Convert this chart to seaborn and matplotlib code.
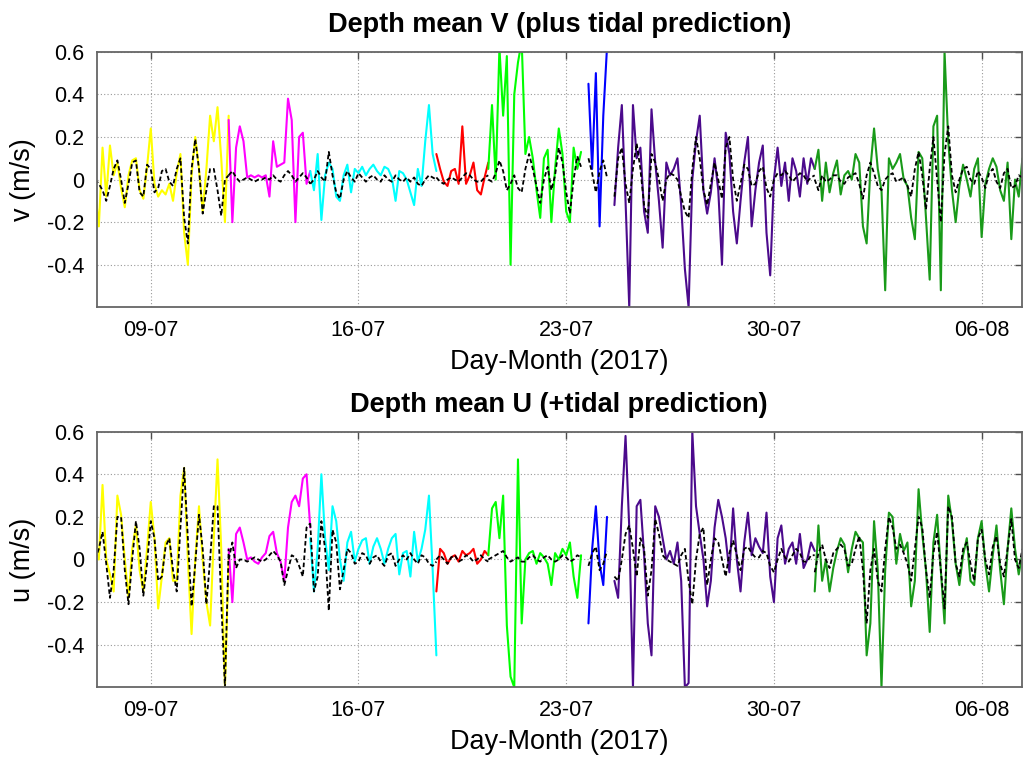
import numpy as np
import pandas as pd
import matplotlib
matplotlib.use('Agg')  # no display in the sandbox
import matplotlib.pyplot as plt
import matplotlib.dates as mdates
import seaborn as sns

# time base: samples every 3 hours counted from 07-07 00:00
START = pd.Timestamp('2017-07-07')
STEP_HOURS = 3

seg_names = ['yellow', 'magenta', 'cyan', 'red', 'lime', 'blue', 'indigo', 'green']
seg_colors = ['#ffff00', '#ff00ff', '#00ffff', '#ff0000', '#00ff00', '#0000ff', '#4b0a8c', '#199a19']
seg_first = [1, 37, 59, 93, 107, 134, 141, 195]  # first 3-hour sample index of each deployment

tick_days = ['2017-07-09', '2017-07-16', '2017-07-23', '2017-07-30', '2017-08-06']
y_ticks = [-0.4, -0.2, 0, 0.2, 0.4, 0.6]

# depth mean V (m/s), one list per segment
v_obs = [
    [-0.05, -0.22, 0.15, -0.08, 0.16, 0.02, 0.08, -0.04, -0.13, 0.02, 0.09, 0.10, -0.05, -0.09, 0.06, 0.24, -0.02, -0.08, -0.05, -0.07,
     -0.02, -0.10, 0.03, 0.12, -0.25, -0.40, 0.02, 0.20, 0.05, -0.15, 0.05, 0.30, 0.18, 0.34, 0.10, -0.20, 0.30],
    [0.28, -0.20, 0.15, 0.25, 0.18, 0.01, 0.02, 0.01, 0.02, 0.01, 0.02, -0.08, 0.18, 0.06, 0.07, 0.08, 0.38, 0.28, -0.20, 0.20,
     0.22, -0.02, 0.04],
    [0.04, -0.05, 0.12, -0.19, 0.02, 0.08, 0.05, -0.08, -0.10, 0.02, 0.07, -0.06, 0.05, 0.03, 0.06, 0.02, 0.05, 0.07, 0.04, 0.02,
     0.06, 0.05, 0.01, -0.10, 0.04, 0.03, 0.0, -0.06, -0.12, 0.05, -0.03, 0.18, 0.35, 0.12, 0.04],
    [0.12, 0.05, -0.01, -0.03, 0.04, 0.05, -0.02, 0.25, -0.02, 0.02, 0.08, -0.05, -0.07, 0.01, 0.08],
    [0.05, 0.35, 0.0, 0.62, 0.30, 0.58, -0.40, 0.40, 0.55, 0.65, 0.12, 0.20, 0.10, -0.05, -0.18, 0.10, 0.14, -0.20, 0.05, 0.24,
     0.12, -0.15, -0.20, 0.15, 0.05, 0.13],
    [0.45, 0.05, 0.50, -0.22, 0.30, 0.62],
    [-0.12, 0.15, 0.35, -0.10, -0.60, 0.35, 0.10, 0.15, -0.15, -0.25, 0.33, 0.08, -0.10, -0.32, 0.08, 0.02, 0.05, 0.10, -0.12, -0.42,
     -0.60, 0.0, 0.18, 0.30, -0.05, -0.16, -0.06, 0.10, -0.05, -0.40, 0.22, 0.12, -0.15, -0.30, -0.10, 0.08, 0.20, -0.22, -0.05, 0.08,
     0.16, -0.25, -0.45, 0.0, 0.15, -0.03, 0.08, -0.10, 0.10, 0.04, -0.08, 0.10, -0.02, 0.10, 0.05],
    [0.05, 0.14, -0.10, 0.08, -0.06, 0.03, 0.09, -0.07, 0.02, 0.04, 0.0, 0.12, 0.08, -0.22, -0.30, 0.05, 0.24, 0.05, -0.05, -0.52,
     0.10, 0.05, 0.08, 0.12, 0.0, -0.03, -0.18, -0.28, 0.13, 0.10, -0.18, -0.47, 0.25, 0.30, -0.52, 0.60, 0.18, -0.05, -0.20, -0.03,
     0.07, 0.0, -0.08, 0.05, 0.10, -0.27, -0.02, 0.05, 0.10, 0.06, -0.05, -0.10, 0.08, -0.28, 0.0, -0.08, 0.10],
]
v_tide = [
    [0.0, -0.02, -0.05, -0.10, -0.03, 0.05, 0.09, 0.0, -0.11, -0.02, 0.08, 0.09, -0.06, -0.08, 0.07, 0.05, -0.06, -0.04, 0.04, 0.05,
     -0.01, -0.03, 0.05, 0.10, -0.18, -0.30, 0.05, 0.19, 0.05, -0.16, -0.05, 0.05, 0.05, -0.05, -0.17, 0.0, 0.02],
    [0.02, 0.04, 0.01, -0.01, 0.0, 0.01, 0.0, -0.01, 0.0, 0.0, 0.01, 0.0, 0.02, 0.0, -0.01, 0.02, 0.04, 0.02, -0.01, 0.01,
     0.03, 0.01, -0.02],
    [-0.02, 0.0, 0.04, 0.01, -0.01, 0.13, 0.02, -0.06, -0.09, 0.0, 0.04, 0.01, -0.01, 0.03, 0.01, -0.01, 0.01, 0.02, 0.0, -0.01,
     0.02, 0.0, -0.01, 0.02, 0.0, -0.01, 0.01, -0.01, 0.01, -0.02, -0.03, 0.0, 0.02, 0.01, 0.0],
    [0.01, -0.01, -0.02, 0.0, 0.01, 0.0, -0.01, 0.01, 0.03, 0.02, 0.0, -0.01, -0.01, 0.01, 0.02],
    [0.0, -0.01, 0.03, 0.09, 0.04, -0.05, -0.02, 0.02, -0.04, -0.06, 0.05, 0.12, 0.05, -0.03, -0.11, 0.0, 0.06, -0.05, 0.02, 0.15,
     0.08, -0.06, -0.16, 0.0, 0.11, 0.06],
    [0.10, 0.03, -0.06, 0.04, 0.09, 0.01],
    [-0.08, 0.10, 0.15, -0.02, -0.11, 0.05, 0.17, 0.05, -0.12, -0.18, 0.12, 0.08, 0.0, -0.10, 0.0, 0.03, 0.02, 0.0, -0.08, -0.15,
     -0.18, 0.05, 0.20, 0.10, -0.05, -0.12, -0.02, 0.08, 0.0, -0.09, 0.15, 0.20, 0.0, -0.10, -0.02, 0.07, 0.05, -0.03, -0.02, 0.04,
     0.06, -0.04, -0.08, 0.0, 0.03, 0.02, 0.04, 0.02, -0.01, 0.01, 0.03, 0.02, -0.01, 0.01, 0.02],
    [0.0, -0.05, 0.02, -0.01, 0.0, 0.02, 0.02, -0.01, -0.02, 0.01, 0.02, 0.03, -0.02, -0.09, 0.02, 0.08, 0.03, -0.03, -0.05, 0.0,
     0.02, 0.03, -0.01, 0.0, 0.01, -0.03, -0.08, 0.05, 0.13, 0.02, -0.14, 0.05, 0.20, 0.0, -0.20, 0.12, 0.25, 0.02, -0.06, 0.0,
     0.05, 0.06, 0.0, -0.02, 0.04, 0.01, -0.04, 0.03, 0.05, -0.01, -0.04, 0.03, 0.05, -0.04, -0.03, 0.02, 0.01],
]

# depth mean U (m/s)
u_obs = [
    [0.10, 0.0, 0.35, 0.0, -0.07, -0.15, 0.30, 0.21, 0.0, -0.18, 0.05, 0.16, -0.05, -0.15, 0.05, 0.27, 0.10, -0.23, -0.08, 0.08,
     0.10, -0.10, -0.10, 0.30, 0.43, 0.0, -0.35, 0.0, 0.25, 0.0, -0.20, -0.31, 0.10, 0.47, 0.05, -0.60, 0.0],
    [0.05, -0.20, 0.12, 0.15, 0.08, 0.0, 0.01, -0.01, -0.02, 0.01, 0.03, 0.11, 0.13, 0.03, -0.01, -0.10, 0.15, 0.27, 0.30, 0.25,
     0.38, 0.40, 0.15],
    [0.10, -0.15, 0.05, 0.40, 0.10, -0.05, 0.25, 0.18, 0.0, -0.10, 0.08, 0.13, -0.01, 0.05, 0.09, 0.10, -0.02, 0.06, 0.10, 0.05,
     -0.02, 0.05, 0.10, 0.12, -0.07, 0.03, 0.04, -0.08, 0.13, -0.01, 0.05, 0.14, 0.30, -0.05, -0.45],
    [-0.15, 0.05, 0.03, -0.02, 0.01, 0.02, -0.01, 0.04, 0.02, 0.03, 0.05, -0.02, 0.0, 0.04, 0.02],
    [0.02, 0.24, 0.27, 0.10, 0.30, -0.31, -0.55, -0.60, 0.47, -0.30, 0.0, 0.03, 0.04, -0.02, 0.03, 0.01, -0.02, -0.12, 0.03, 0.0,
     0.05, 0.02, 0.08, -0.08, -0.18, 0.02],
    [-0.30, 0.05, 0.25, -0.02, -0.12, 0.20],
    [-0.10, -0.18, 0.25, 0.58, 0.15, -0.60, 0.25, 0.28, 0.02, -0.30, -0.45, 0.25, 0.20, 0.10, 0.0, 0.04, -0.02, 0.08, -0.10, -0.60,
     -0.58, 0.60, 0.25, 0.12, 0.0, -0.22, -0.10, 0.15, 0.28, 0.20, 0.10, -0.06, 0.24, 0.0, -0.15, 0.08, 0.22, 0.02, 0.10, 0.06,
     0.03, 0.22, -0.08, -0.20, 0.10, 0.16, -0.02, 0.05, 0.08, -0.02, 0.12, -0.04, 0.0, 0.08, 0.04],
    [-0.15, 0.16, -0.10, 0.0, -0.15, -0.04, 0.04, 0.10, 0.07, -0.06, 0.05, 0.13, 0.10, 0.08, -0.45, -0.30, 0.18, -0.05, -0.60, -0.05,
     0.22, 0.20, -0.02, 0.12, 0.04, 0.08, -0.22, -0.10, 0.33, 0.12, -0.05, -0.34, 0.08, 0.21, -0.05, -0.30, 0.30, 0.18, -0.02, -0.12,
     0.02, 0.10, -0.10, -0.12, 0.10, 0.18, -0.02, -0.15, 0.02, 0.16, -0.05, -0.21, 0.05, 0.24, 0.05, -0.07, 0.03],
]
u_tide = [
    [0.0, 0.05, 0.13, -0.02, -0.18, -0.05, 0.20, 0.20, -0.05, -0.21, 0.0, 0.18, 0.05, -0.17, -0.02, 0.18, 0.10, -0.10, -0.08, 0.06,
     0.10, -0.05, -0.15, 0.15, 0.43, 0.10, -0.22, -0.02, 0.21, 0.05, -0.21, 0.0, 0.25, 0.25, -0.20, -0.60, 0.05],
    [0.0, 0.08, -0.04, 0.0, 0.0, -0.01, 0.0, 0.01, 0.0, -0.01, 0.0, 0.02, 0.04, 0.02, -0.01, -0.12, -0.05, 0.02, 0.01, -0.03,
     -0.08, 0.15, 0.17],
    [0.17, -0.15, -0.08, 0.18, 0.05, -0.24, 0.14, 0.08, -0.14, -0.05, 0.05, 0.03, -0.02, -0.01, 0.03, 0.02, -0.02, 0.01, 0.02, -0.01,
     -0.03, 0.02, 0.03, -0.03, 0.0, 0.02, 0.0, 0.03, 0.0, -0.02, 0.02, 0.01, -0.02, -0.03, -0.01],
    [0.0, 0.02, 0.0, -0.02, 0.01, 0.02, -0.01, 0.0, 0.02, 0.01, -0.01, 0.0, 0.02, 0.0, -0.01],
    [0.0, 0.01, 0.02, 0.03, 0.04, 0.01, -0.01, 0.0, 0.01, -0.01, -0.01, 0.01, 0.02, 0.0, -0.01, 0.01, 0.02, 0.0, -0.01, 0.0,
     0.02, 0.01, -0.01, 0.0, 0.02, 0.01],
    [-0.03, 0.03, 0.06, -0.05, -0.02, 0.04],
    [-0.08, -0.10, 0.0, 0.12, 0.16, 0.05, -0.08, 0.10, 0.05, -0.17, -0.05, 0.19, 0.12, 0.02, 0.0, -0.01, -0.02, -0.03, 0.02, 0.05,
     -0.10, -0.21, 0.0, 0.12, 0.15, -0.12, 0.0, 0.10, 0.08, 0.0, -0.08, 0.03, 0.09, 0.02, -0.05, 0.05, 0.06, 0.03, 0.01, 0.01,
     0.04, 0.03, -0.03, -0.06, 0.0, 0.05, 0.01, -0.01, 0.02, 0.05, 0.03, -0.01, -0.01, 0.02, 0.02],
    [-0.06, 0.03, 0.07, 0.0, -0.04, 0.03, 0.05, 0.07, 0.05, -0.03, -0.02, 0.05, 0.11, -0.05, -0.30, -0.05, 0.05, -0.10, -0.15, 0.05,
     0.20, 0.15, 0.05, 0.07, 0.03, -0.02, -0.10, 0.05, 0.20, 0.15, -0.05, -0.18, 0.03, 0.13, -0.05, -0.23, 0.25, 0.20, -0.02, -0.08,
     0.05, 0.08, -0.02, -0.10, 0.10, 0.14, 0.0, -0.07, 0.06, 0.11, -0.02, -0.08, 0.05, 0.19, 0.0, -0.04, 0.05],
]


def build_frame(obs, tide):
    parts = []
    for name, first, o, t in zip(seg_names, seg_first, obs, tide):
        steps = first + np.arange(len(o))
        times = START + pd.to_timedelta(steps * STEP_HOURS, unit='h')
        parts.append(pd.DataFrame({'time': times, 'obs': o, 'tide': t, 'segment': name}))
    return pd.concat(parts, ignore_index=True)


sns.set_style('white')
plt.rcParams['font.family'] = ['Liberation Sans', 'DejaVu Sans']
plt.rcParams.update({'text.color': 'black', 'axes.labelcolor': 'black',
                     'xtick.color': 'black', 'ytick.color': 'black'})

fig = plt.figure(figsize=(10.26, 7.62), dpi=100)
ax_v = fig.add_axes([0.0943, 0.5967, 0.9015, 0.3353])
ax_u = fig.add_axes([0.0943, 0.0980, 0.9015, 0.3355])

palette = dict(zip(seg_names, seg_colors))
panels = [
    (ax_v, build_frame(v_obs, v_tide), 'Depth mean V (plus tidal prediction)', 'v (m/s)'),
    (ax_u, build_frame(u_obs, u_tide), 'Depth mean U (+tidal prediction)', 'u (m/s)'),
]

for ax, df, title, ylabel in panels:
    sns.lineplot(data=df, x='time', y='obs', hue='segment', hue_order=seg_names, palette=palette,
                 units='segment', estimator=None, sort=False, legend=False, linewidth=1.5, ax=ax)
    sns.lineplot(data=df, x='time', y='tide', units='segment', estimator=None, sort=False,
                 color='black', linewidth=1.3, dashes=False, ax=ax)
    for line in ax.lines[len(seg_names):]:
        line.set_linestyle((0, (2.5, 1.5)))

    ax.set_xlim(START + pd.Timedelta(days=0.18), START + pd.Timedelta(days=31.35))
    ax.set_ylim(-0.6, 0.6)
    ax.set_xticks(pd.to_datetime(tick_days))
    ax.xaxis.set_major_formatter(mdates.DateFormatter('%d-%m'))
    ax.set_yticks(y_ticks)
    ax.set_yticklabels(['-0.4', '-0.2', '0', '0.2', '0.4', '0.6'])

    ax.grid(True, linestyle=(0, (1, 2)), color='0.6', linewidth=0.8)
    ax.tick_params(direction='in', top=True, right=True, length=5, width=1, color='0.3',
                   labelsize=15.5, pad=9)
    for sp in ax.spines.values():
        sp.set_color('0.4')
        sp.set_linewidth(1.3)

    ax.set_title(title, fontsize=19.5, fontweight='bold', pad=14)
    ax.set_xlabel('Day-Month (2017)', fontsize=19.5, labelpad=6)
    ax.set_ylabel(ylabel, fontsize=19.5, labelpad=8)

fig.savefig('out.png', dpi=100)
